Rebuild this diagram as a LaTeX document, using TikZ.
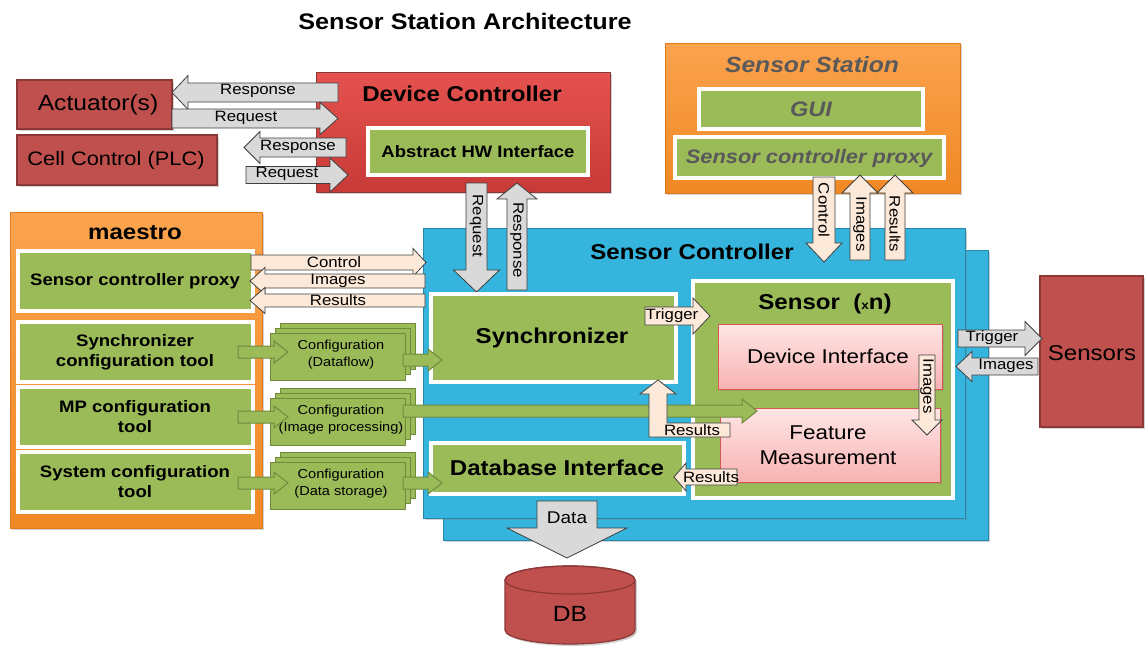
\documentclass[tikz,border=0pt]{standalone}
\usepackage{fontspec}
\setmainfont[FakeStretch=1.12]{Liberation Sans}
\usetikzlibrary{shadows}

\definecolor{cred}{HTML}{C0504D}
\definecolor{credd}{HTML}{8C3836}
\definecolor{cdct}{HTML}{E5524F}
\definecolor{cdcb}{HTML}{C73A37}
\definecolor{corat}{HTML}{FBA34E}
\definecolor{corab}{HTML}{F08824}
\definecolor{corad}{HTML}{E07A1A}
\definecolor{cgreen}{HTML}{9BBB59}
\definecolor{cgreend}{HTML}{6F8A3C}
\definecolor{cblue}{HTML}{35B5DD}
\definecolor{cblued}{HTML}{2587AB}
\definecolor{cpinkt}{HTML}{FFE6E6}
\definecolor{cpinkb}{HTML}{F8B2B2}
\definecolor{cpinkd}{HTML}{D9574F}
\definecolor{cpeach}{HTML}{FDE9D9}
\definecolor{cgray}{HTML}{D9D9D9}
\definecolor{cedge}{HTML}{3F3F3F}
\definecolor{ctext}{HTML}{595959}

\newcommand\fsz[2]{\fontsize{#1}{#2}\selectfont}

% horizontal block arrow: [style]{x tail}{x tip}{y centre}{body half}{head half}{head length}
\newcommand\harrow[7][]{%
  \pgfmathsetmacro\hbase{#3-sign(#3-#2)*#7}%
  \draw[#1] (#2,#4-#5) -- (\hbase,#4-#5) -- (\hbase,#4-#6) -- (#3,#4)
    -- (\hbase,#4+#6) -- (\hbase,#4+#5) -- (#2,#4+#5) -- cycle;}
% vertical block arrow: [style]{y tail}{y tip}{x centre}{body half}{head half}{head length}
\newcommand\varrow[7][]{%
  \pgfmathsetmacro\vbase{#3-sign(#3-#2)*#7}%
  \draw[#1] (#4-#5,#2) -- (#4-#5,\vbase) -- (#4-#6,\vbase) -- (#4,#3)
    -- (#4+#6,\vbase) -- (#4+#5,\vbase) -- (#4+#5,#2) -- cycle;}

\tikzset{
  softshadow/.style={drop shadow={shadow xshift=2pt,shadow yshift=-2pt,opacity=.35}},
  frame/.style={anchor=north west, inner sep=0pt, outer sep=0pt},
  redbox/.style={frame, fill=cred, draw=credd, line width=1.2pt, softshadow},
  orbox/.style={frame, top color=corat, bottom color=corab, draw=corad, line width=.8pt, softshadow},
  gbox/.style={frame, fill=cgreen, draw=white, line width=3.5pt, softshadow},
  bluebox/.style={frame, fill=cblue, draw=cblued, line width=.8pt, softshadow},
  pinkbox/.style={frame, top color=cpinkt, bottom color=cpinkb, draw=cpinkd, line width=1pt, softshadow},
  grayarr/.style={fill=cgray, draw=cedge, line width=.8pt},
  peacharr/.style={fill=cpeach, draw=cedge, line width=.8pt},
  greenarr/.style={fill=cgreen, draw=cgreend, line width=1pt},
  docpage/.style={fill=cgreen, draw=cgreend, line width=1pt},
  lbl/.style={inner sep=0pt, font=\fsz{15}{17}},
  big/.style={inner sep=0pt, font=\fsz{21.5}{25}\bfseries},
  plain/.style={inner sep=0pt, font=\fsz{20}{25}, align=center},
  tool/.style={inner sep=0pt, font=\fsz{16.6}{20}\bfseries, align=center},
  doctext/.style={inner sep=0pt, font=\fsz{13}{17}, align=center},
  station/.style={inner sep=0pt, text=ctext},
}

\begin{document}
\begin{tikzpicture}[x=1pt,y=-1pt]
\useasboundingbox (0,0) rectangle (1145,648);
\fill[white] (0,0) rectangle (1145,648);

\node[inner sep=0pt, font=\fsz{22.5}{26}\bfseries] (title) at (465,21) {Sensor Station Architecture};

% ---------------- device side ----------------
\node[redbox, minimum width=155, minimum height=49] (act) at (17,80) {};
\node[inner sep=0pt, font=\fsz{22}{26}] (acttxt) at (98,105) {Actuator(s)};
\node[redbox, minimum width=200, minimum height=50] (cell) at (17,135) {};
\node[inner sep=0pt, font=\fsz{19.5}{24}] (celltxt) at (116,160) {Cell Control (PLC)};

\node[frame, top color=cdct, bottom color=cdcb, draw=credd, line width=1pt, softshadow,
      minimum width=294, minimum height=120] (dc) at (316,72) {};
\node[big] (dctxt) at (462,94) {Device Controller};
\node[gbox, minimum width=220, minimum height=47] (ahw) at (368,128) {};
\node[inner sep=0pt, font=\fsz{16.5}{20}\bfseries] (ahwtxt) at (478,152) {Abstract HW Interface};

\harrow[grayarr]{338}{172}{92.5}{9.5}{17}{16}
\node[lbl] (rsp1) at (258,91) {Response};
\harrow[grayarr]{172}{338}{118.5}{9.5}{16}{18}
\node[lbl] (req1) at (246,118) {Request};
\harrow[grayarr]{346}{244}{147.5}{9.5}{16}{16}
\node[lbl] (rsp2) at (298,147) {Response};
\harrow[grayarr]{246}{348}{175}{8.5}{17}{18}
\node[lbl] (req2) at (287,174) {Request};

% ---------------- sensor station ----------------
\node[orbox, minimum width=295, minimum height=150] (ss) at (665,43) {};
\node[station, font=\fsz{22}{26}\bfseries\itshape] (sstxt) at (812,65) {Sensor Station};
\node[gbox, minimum width=224, minimum height=40] (gui) at (699,89) {};
\node[station, font=\fsz{21}{25}\bfseries\itshape] (guitxt) at (811,109) {GUI};
\node[gbox, minimum width=269, minimum height=41] (sspx) at (675,137) {};
\node[station, font=\fsz{19.5}{24}\bfseries\itshape] (sspxtxt) at (809,158) {Sensor controller proxy};

% ---------------- sensor controller ----------------
\node[bluebox, minimum width=545, minimum height=290] (scback) at (443,250) {};
\node[bluebox, minimum width=542, minimum height=290] (sc) at (423,228) {};
\node[big] (sctxt) at (692,252) {Sensor Controller};

\varrow[grayarr]{183}{292}{476.5}{10.5}{23}{22}
\node[lbl, rotate=-90] (reqv) at (476.5,226) {Request};
\varrow[grayarr]{290}{183}{517}{10}{20}{16}
\node[lbl, rotate=-90] (rspv) at (517,240) {Response};

\varrow[peacharr]{177}{262}{824}{11}{18}{19}
\node[lbl, rotate=-90] (ctlv) at (824,210) {Control};
\varrow[peacharr]{260}{175}{860}{10}{18}{18}
\node[lbl, rotate=-90] (imgv) at (860,224) {Images};
\varrow[peacharr]{260}{175}{895}{10}{18}{18}
\node[lbl, rotate=-90] (resv) at (895,224) {Results};

% ---------------- maestro ----------------
\node[orbox, minimum width=252, minimum height=316] (mae) at (10,212) {};
\node[big] (maetxt) at (135,233) {maestro};
\node[gbox, minimum width=235, minimum height=60] (mpx) at (18,251) {};
\node[tool] (mpxtxt) at (135,281) {Sensor controller proxy};
\node[gbox, minimum width=235, minimum height=60] (synct) at (18,322) {};
\node[tool] (synctxt) at (135,352) {Synchronizer\\configuration tool};
\node[gbox, minimum width=235, minimum height=60] (mpt) at (18,387) {};
\node[tool] (mpttxt) at (135,417) {MP configuration\\tool};
\node[gbox, minimum width=235, minimum height=60] (syst) at (18,452) {};
\node[tool] (systtxt) at (135,482) {System configuration\\tool};

% configuration documents
\foreach \n/\t/\l in {cfa/323/Dataflow, cfb/388/Image processing, cfc/452/Data storage}{
  \fill[docpage] (280,\t) rectangle (415,\t+46);
  \fill[docpage] (275,\t+5) rectangle (410,\t+51);
  \fill[docpage] (270,\t+10) rectangle (405,\t+57);
  \node[doctext] (\n) at (341,\t+32) {Configuration\\(\l)};
}

% ---------------- inner modules ----------------
\node[gbox, minimum width=245, minimum height=88] (sync) at (431,294) {};
\node[big] (synctxt2) at (552,338) {Synchronizer};
\node[gbox, minimum width=253, minimum height=51] (dbi) at (431,443) {};
\node[big] (dbitxt) at (557,468) {Database Interface};
\node[gbox, minimum width=260, minimum height=217] (sensor) at (693,281) {};
\node[big] (sensortxt) at (825,304) {Sensor\ \ ({\fsz{12}{14}x}n)};
\node[pinkbox, minimum width=224, minimum height=65] (devif) at (718,324) {};
\node[plain] (deviftxt) at (828,356) {Device Interface};
\node[pinkbox, minimum width=220, minimum height=74] (feat) at (720,408) {};
\node[plain] (feattxt) at (828,445) {Feature\\Measurement};

% ---------------- green configuration flows ----------------
\harrow[greenarr]{238}{288}{352}{6}{11}{14}
\harrow[greenarr]{238}{288}{417}{6}{11}{14}
\harrow[greenarr]{238}{288}{483}{6}{11}{14}
\harrow[greenarr]{403}{442}{360}{6}{11}{14}
\harrow[greenarr]{403}{757}{411}{6}{12}{15}
\harrow[greenarr]{403}{442}{483}{6}{11}{14}

% ---------------- maestro <-> sensor controller ----------------
\harrow[peacharr]{251}{426}{262.5}{7.5}{14}{13}
\node[lbl] (ctlh) at (334,262) {Control};
\harrow[peacharr]{425}{250}{281}{7}{13.5}{15}
\node[lbl] (imgh) at (338,281) {Images};
\harrow[peacharr]{425}{250}{300.5}{6.5}{13}{15}
\node[lbl] (resh) at (338,300) {Results};

% ---------------- internal sensor flows ----------------
\harrow[peacharr]{645}{710}{316}{9}{18}{17}
\node[lbl] (trg) at (672,316) {Trigger};
\draw[peacharr] (730,423) -- (667,423) -- (667,394) -- (676,394) -- (658,380)
  -- (640,394) -- (649,394) -- (649,437) -- (730,437) -- cycle;
\node[lbl] (resl) at (692,430) {Results};
\harrow[peacharr]{737}{674}{477}{8}{14}{12}
\node[lbl] (resd) at (711,477) {Results};
\varrow[peacharr]{355}{435}{927}{8}{15}{15}
\node[lbl, rotate=-90] (imgs) at (927,386) {Images};

% ---------------- sensors ----------------
\node[redbox, minimum width=103, minimum height=151] (sensors) at (1040,276) {};
\node[inner sep=0pt, font=\fsz{21.5}{25}] (sensorstxt) at (1092,353) {Sensors};
\harrow[grayarr]{958}{1042}{338.5}{8.5}{17}{17}
\node[lbl] (trgs) at (992,338) {Trigger};
\harrow[grayarr]{1038}{956}{366.5}{8.5}{15}{16}
\node[lbl] (imgsx) at (1006,366) {Images};

% ---------------- database ----------------
\varrow[grayarr]{501}{558}{567}{30}{60}{30}
\node[inner sep=0pt, font=\fsz{17}{20}] (data) at (567,518) {Data};
\path[fill=cred, draw=credd, line width=1.2pt, softshadow] (505,580) -- (505,630)
  arc[start angle=180, end angle=360, x radius=65pt, y radius=14pt] -- (635,580)
  arc[start angle=0, end angle=180, x radius=65pt, y radius=14pt] -- cycle;
\draw[credd, line width=1.2pt] (570,580) ellipse[x radius=65pt, y radius=14pt];
\node[inner sep=0pt, font=\fsz{22}{26}] (db) at (570,614) {DB};
\end{tikzpicture}
\end{document}
